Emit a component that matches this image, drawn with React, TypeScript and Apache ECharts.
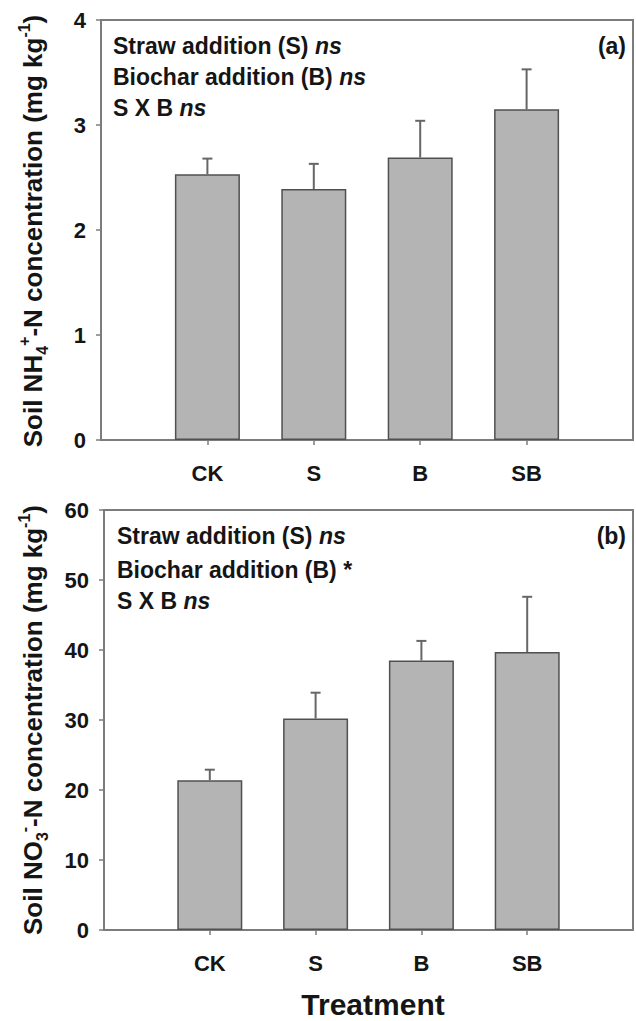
import React, { useEffect, useRef } from "react";
import * as echarts from "echarts";

const categories = ["CK", "S", "B", "SB"];
const nh4Mean = [2.53, 2.39, 2.69, 3.15];
const nh4Se = [0.15, 0.24, 0.35, 0.38];
const no3Mean = [21.4, 30.2, 38.5, 39.7];
const no3Se = [1.5, 3.7, 2.8, 7.9];
const nh4Ticks = { min: 0, max: 4, interval: 1 };
const no3Ticks = { min: 0, max: 60, interval: 10 };

const FONT = "'Liberation Sans', Arial, sans-serif";
const AXIS_COLOR = "#7c7c7c";
const BAR_FILL = "#b4b4b4";
const BAR_EDGE = "#505050";
const ERR_COLOR = "#666666";
const TEXT = "#151515";

const xData = ["", ...categories, ""];

function errRender(params: any, api: any) {
  const x = api.value(0);
  const m = api.value(1);
  const s = api.value(2);
  const p0 = api.coord([x, m]);
  const p1 = api.coord([x, m + s]);
  const style = { stroke: ERR_COLOR, lineWidth: 2 };
  return {
    type: "group",
    children: [
      { type: "line", shape: { x1: p0[0], y1: p0[1], x2: p1[0], y2: p1[1] }, style },
      { type: "line", shape: { x1: p1[0] - 5, y1: p1[1], x2: p1[0] + 5, y2: p1[1] }, style },
    ],
  };
}

function makeXAxis(gridIndex: number) {
  return {
    type: "category",
    gridIndex,
    data: xData,
    boundaryGap: false,
    axisLine: { lineStyle: { color: AXIS_COLOR, width: 2 } },
    axisTick: {
      interval: (i: number) => i >= 1 && i <= categories.length,
      length: 5,
      lineStyle: { color: AXIS_COLOR, width: 1.5 },
    },
    axisLabel: {
      interval: 0,
      margin: 22,
      color: TEXT,
      fontSize: 22,
      fontWeight: "bold",
      fontFamily: FONT,
    },
    splitLine: { show: false },
  };
}

function makeYAxis(gridIndex: number, t: { min: number; max: number; interval: number }) {
  return {
    type: "value",
    gridIndex,
    min: t.min,
    max: t.max,
    interval: t.interval,
    axisLine: { show: true, lineStyle: { color: AXIS_COLOR, width: 2 } },
    axisTick: { show: true, length: 5, lineStyle: { color: AXIS_COLOR, width: 1.5 } },
    axisLabel: {
      margin: 15,
      color: TEXT,
      fontSize: 22,
      fontWeight: "bold",
      fontFamily: FONT,
    },
    splitLine: { show: false },
  };
}

function barData(vals: number[]) {
  return [null, ...vals, null];
}

function errData(mean: number[], se: number[]) {
  return mean.map((m, i) => [i + 1, m, se[i]]);
}

const baseRich = {
  b: { fontSize: 23, fontWeight: "bold", fontFamily: FONT, fill: TEXT },
  i: { fontSize: 23, fontWeight: "bold", fontStyle: "italic", fontFamily: FONT, fill: TEXT },
};

function annot(x: number, y: number, text: string) {
  return {
    type: "text",
    x,
    y,
    style: {
      text,
      rich: baseRich,
      align: "left",
      verticalAlign: "middle",
      fill: TEXT,
    },
  };
}

const titleRich = {
  n: { fontSize: 26, fontWeight: "bold", fontFamily: FONT, fill: TEXT, lineHeight: 34, verticalAlign: "middle" },
  sub: { fontSize: 16, fontWeight: "bold", fontFamily: FONT, fill: TEXT, lineHeight: 16, verticalAlign: "bottom" },
  sup: { fontSize: 16, fontWeight: "bold", fontFamily: FONT, fill: TEXT, lineHeight: 16, verticalAlign: "top" },
};

function yTitle(x: number, y: number, text: string) {
  return {
    type: "text",
    x,
    y,
    rotation: Math.PI / 2,
    style: {
      text,
      rich: titleRich,
      align: "center",
      verticalAlign: "middle",
      fill: TEXT,
    },
  };
}

export default function App() {
  const ref = useRef<HTMLDivElement>(null);
  useEffect(() => {
    if (!ref.current) return;
    const chart = echarts.init(ref.current, null, { renderer: "svg" });
    const option: any = {
      animation: false,
      backgroundColor: "#ffffff",
      grid: [
        { left: 101, top: 20, width: 537, height: 420, show: true, borderColor: AXIS_COLOR, borderWidth: 2, backgroundColor: "transparent" },
        { left: 104, top: 510, width: 537, height: 420, show: true, borderColor: AXIS_COLOR, borderWidth: 2, backgroundColor: "transparent" },
      ],
      xAxis: [makeXAxis(0), makeXAxis(1)],
      yAxis: [makeYAxis(0, nh4Ticks), makeYAxis(1, no3Ticks)],
      series: [
        {
          type: "bar",
          xAxisIndex: 0,
          yAxisIndex: 0,
          data: barData(nh4Mean),
          barWidth: 65,
          itemStyle: { color: BAR_FILL, borderColor: BAR_EDGE, borderWidth: 1.5 },
        },
        {
          type: "custom",
          xAxisIndex: 0,
          yAxisIndex: 0,
          data: errData(nh4Mean, nh4Se),
          renderItem: errRender,
          encode: { x: 0, y: 1 },
          z: 5,
        },
        {
          type: "bar",
          xAxisIndex: 1,
          yAxisIndex: 1,
          data: barData(no3Mean),
          barWidth: 65,
          itemStyle: { color: BAR_FILL, borderColor: BAR_EDGE, borderWidth: 1.5 },
        },
        {
          type: "custom",
          xAxisIndex: 1,
          yAxisIndex: 1,
          data: errData(no3Mean, no3Se),
          renderItem: errRender,
          encode: { x: 0, y: 1 },
          z: 5,
        },
      ],
      graphic: [
        annot(113, 46, "{b|Straw addition (S) }{i|ns}"),
        annot(113, 77, "{b|Biochar addition (B) }{i|ns}"),
        annot(113, 108, "{b|S X B }{i|ns}"),
        {
          type: "text",
          x: 626,
          y: 46,
          style: { text: "(a)", align: "right", verticalAlign: "middle", fill: TEXT, fontSize: 23, fontWeight: "bold", fontFamily: FONT },
        },
        annot(117, 536, "{b|Straw addition (S) }{i|ns}"),
        annot(117, 570, "{b|Biochar addition (B) *}"),
        annot(117, 601, "{b|S X B }{i|ns}"),
        {
          type: "text",
          x: 626,
          y: 536,
          style: { text: "(b)", align: "right", verticalAlign: "middle", fill: TEXT, fontSize: 23, fontWeight: "bold", fontFamily: FONT },
        },
        yTitle(33, 231, "{n|Soil NH}{sub|4}{sup|+}{n|-N concentration (mg kg}{sup|-1}{n|)}"),
        yTitle(33, 720, "{n|Soil NO}{sub|3}{sup|-}{n|-N concentration (mg kg}{sup|-1}{n|)}"),
        {
          type: "text",
          x: 373,
          y: 1004,
          style: { text: "Treatment", align: "center", verticalAlign: "middle", fill: TEXT, fontSize: 30, fontWeight: "bold", fontFamily: FONT },
        },
      ],
    };
    chart.setOption(option);
    return () => chart.dispose();
  }, []);
  return (
    <div
      ref={ref}
      style={{ position: "fixed", left: 0, top: 0, width: 636, height: 1021, background: "#fff" }}
    />
  );
}
